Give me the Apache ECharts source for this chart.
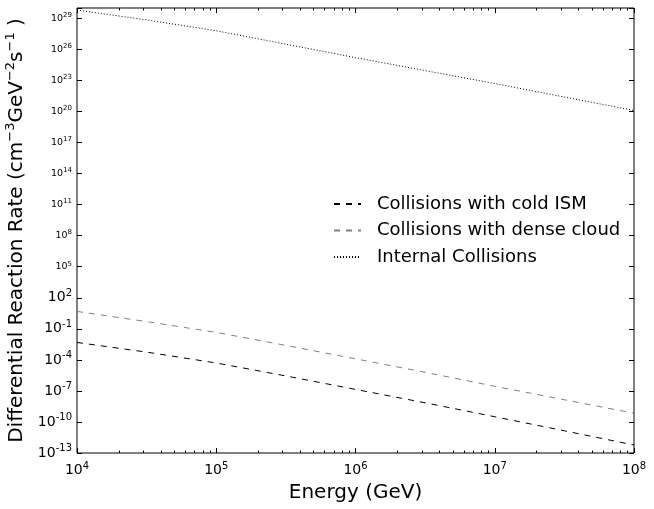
<!DOCTYPE html>
<html>
<head>
<meta charset="utf-8">
<script src="https://cdn.jsdelivr.net/npm/echarts@6/dist/echarts.min.js"></script>
<style>
  html, body { margin: 0; padding: 0; background: #fff; }
  #chart { width: 654px; height: 509px; }
</style>
</head>
<body>
<div id="chart"></div>
<script>
// energies (GeV), half-decade steps
var energy = [1e4, 3.16e4, 1e5, 3.16e5, 1e6, 3.16e6, 1e7, 3.16e7, 1e8];
var coldISM = [4.8e-3, 5.6e-4, 5.0e-5, 2.8e-6, 1.4e-7, 7.1e-9, 3.2e-10, 1.4e-11, 5.9e-13];
var denseCloud = [4.8, 0.5, 4.5e-2, 2.5e-3, 1.26e-4, 6.3e-6, 2.8e-7, 1.4e-8, 6.9e-10];
var internal = [6.3e29, 7.1e28, 6.3e27, 3.2e26, 1.6e25, 8.9e23, 5.0e22, 2.5e21, 1.26e20];
var seriesNames = ['Collisions with cold ISM', 'Collisions with dense cloud', 'Internal Collisions'];
// minor ticks on the energy axis (2..9 x each decade)
var minorTicks = [];
[1e4, 1e5, 1e6, 1e7].forEach(function (d) {
    for (var k = 2; k <= 9; k++) minorTicks.push(k * d);
});

var chart = echarts.init(document.getElementById('chart'));
var font = 'DejaVu Sans';

function pairs(ys) {
    return energy.map(function (x, i) { return [x, ys[i]]; });
}

function bigLabel(v) {
    var e = Math.round(Math.log10(v));
    return '{b|10}{s|' + e + '}';
}

function yLabel(v) {
    var e = Math.round(Math.log10(v));
    if (e > 29) return '';
    if (e >= 5) return '{sb|10}{ss|' + e + '}';
    return '{b|10}{s|' + e + '}';
}

var labelRich = {
    b: { fontFamily: font, fontSize: 14, color: '#000' },
    s: { fontFamily: font, fontSize: 10, color: '#000', padding: [0, 0, 9, 0] },
    sb: { fontFamily: font, fontSize: 9.5, color: '#000' },
    ss: { fontFamily: font, fontSize: 7, color: '#000', padding: [0, 0, 6, 0] }
};

var baseX = {
    type: 'log', logBase: 10, min: 1e4, max: 1e8, interval: 1,
    axisLine: { show: false }, splitLine: { show: false }
};

var option = {
    backgroundColor: '#fff',
    animation: false,
    grid: {
        left: 77, right: 20, top: 8, bottom: 56,
        containLabel: false, outerBoundsMode: 'none',
        show: true, borderColor: '#000', borderWidth: 1, backgroundColor: 'transparent'
    },
    legend: {
        left: 328, top: 190, orient: 'vertical',
        itemWidth: 27, itemHeight: 10, itemGap: 8.5,
        itemStyle: { opacity: 0 },
        textStyle: { fontFamily: font, fontSize: 18, color: '#000', padding: [0, 0, 0, 11] },
        data: seriesNames
    },
    xAxis: [
        Object.assign({}, baseX, {
            position: 'bottom',
            name: 'Energy (GeV)', nameLocation: 'middle', nameGap: 30,
            nameTextStyle: { fontFamily: font, fontSize: 20, color: '#000' },
            axisTick: { inside: true, length: 5, lineStyle: { color: '#000' } },
            axisLabel: {
                margin: 8, formatter: bigLabel, rich: labelRich,
                fontFamily: font, color: '#000'
            }
        }),
        Object.assign({}, baseX, {
            position: 'top',
            axisTick: { inside: true, length: 5, lineStyle: { color: '#000' } },
            axisLabel: { show: false }
        }),
        Object.assign({}, baseX, {
            position: 'bottom',
            axisTick: { inside: true, length: 2.5, customValues: minorTicks, lineStyle: { color: '#000' } },
            axisLabel: { show: false }
        }),
        Object.assign({}, baseX, {
            position: 'top',
            axisTick: { inside: true, length: 2.5, customValues: minorTicks, lineStyle: { color: '#000' } },
            axisLabel: { show: false }
        })
    ],
    yAxis: [
        {
            type: 'log', logBase: 10, min: 1e-13, max: 1e30, interval: 3,
            position: 'left',
            axisLine: { show: false }, splitLine: { show: false },
            axisTick: { inside: true, length: 5, lineStyle: { color: '#000' } },
            axisLabel: {
                margin: 5, formatter: yLabel,
                rich: labelRich, fontFamily: font, color: '#000'
            },
            name: '{t|Differential Reaction Rate (cm}{u|\u22123}{t|GeV}{u|\u22122}{t|s}{u|\u22121}{t| )}',
            nameLocation: 'middle', nameRotate: 90, nameGap: 39,
            nameTextStyle: {
                rich: {
                    t: { fontFamily: font, fontSize: 20, color: '#000' },
                    u: { fontFamily: font, fontSize: 13, color: '#000', padding: [0, 0, 12, 0] }
                }
            }
        },
        {
            type: 'log', logBase: 10, min: 1e-13, max: 1e30, interval: 3,
            position: 'right',
            axisLine: { show: false }, splitLine: { show: false },
            axisTick: { inside: true, length: 5, lineStyle: { color: '#000' } },
            axisLabel: { show: false }
        }
    ],
    series: [
        {
            name: seriesNames[0], type: 'line', symbol: 'none', data: pairs(coldISM),
            itemStyle: { color: '#000' },
            lineStyle: { color: '#000', width: 1, type: [6, 6] }
        },
        {
            name: seriesNames[1], type: 'line', symbol: 'none', data: pairs(denseCloud),
            itemStyle: { color: '#808080' },
            lineStyle: { color: '#808080', width: 1, type: [6, 6] }
        },
        {
            name: seriesNames[2], type: 'line', symbol: 'none', data: pairs(internal),
            itemStyle: { color: '#000' },
            lineStyle: { color: '#000', width: 1, type: [1, 2] }
        }
    ]
};

chart.setOption(option);
</script>
</body>
</html>
